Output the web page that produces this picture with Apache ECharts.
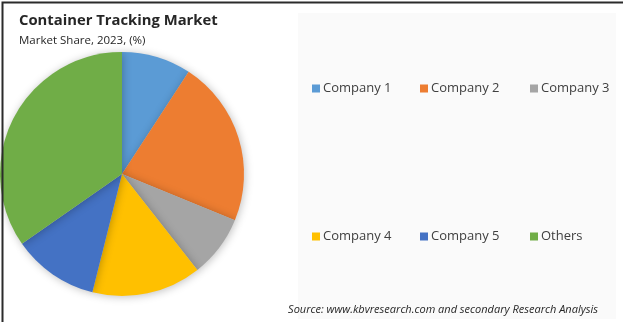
<!DOCTYPE html>
<html>
<head>
<meta charset="utf-8">
<script src="https://cdn.jsdelivr.net/npm/echarts@6/dist/echarts.min.js"></script>
<style>
html,body{margin:0;padding:0;background:#fff;}
#chart{width:623px;height:322px;}
</style>
</head>
<body>
<div id="chart"></div>
<script>
const categories = ['Company 1', 'Company 2', 'Company 3', 'Company 4', 'Company 5', 'Others'];
const shares = [9.2, 22.0, 8.2, 14.5, 11.4, 34.7];
const colors = ['#5B9BD5', '#ED7D31', '#A5A5A5', '#FFC000', '#4472C4', '#70AD47'];
const legendPos = [[312, 82], [420, 82], [530, 82], [312, 230], [420, 230], [530, 230]];

const chart = echarts.init(document.getElementById('chart'), null, {renderer: 'canvas'});
const fontFam = '"Open Sans", "Liberation Sans", sans-serif';

const legends = categories.map((c, i) => ({
  data: [c],
  left: legendPos[i][0],
  top: legendPos[i][1],
  icon: 'rect',
  itemWidth: 8,
  itemHeight: 8,
  padding: 0,
  selectedMode: false,
  textStyle: {fontFamily: fontFam, fontSize: 13, color: '#404040', padding: [0, 0, 0, -2]}
}));

chart.setOption({
  animation: false,
  backgroundColor: '#ffffff',
  color: colors,
  title: [
    {text: 'Container Tracking Market', left: 14, top: 8,
     textStyle: {fontFamily: fontFam, fontWeight: 'bold', fontSize: 14.8, color: '#262626'}},
    {text: 'Market Share, 2023, (%)', left: 14, top: 30,
     textStyle: {fontFamily: fontFam, fontWeight: 'normal', fontSize: 11.5, color: '#262626'}}
  ],
  graphic: [
    {type: 'rect', left: 298, top: 13, z: -1, silent: true,
     shape: {width: 318, height: 306}, style: {fill: '#fafafa'}},
    {type: 'text', right: 25, top: 304, silent: true,
     style: {text: 'Source: www.kbvresearch.com and secondary Research Analysis',
             font: 'italic 11px ' + fontFam, fill: '#262626'}},
    {type: 'rect', left: 0, top: 0, z: 100, silent: true,
     shape: {width: 622, height: 321},
     style: {fill: 'none', stroke: '#2b2b2b', lineWidth: 2}}
  ],
  legend: legends,
  series: [{
    type: 'pie',
    center: [122, 174],
    radius: [0, 122],
    startAngle: 90,
    clockwise: true,
    label: {show: false},
    labelLine: {show: false},
    silent: true,
    itemStyle: {shadowBlur: 8, shadowColor: 'rgba(0,0,0,0.25)', shadowOffsetX: 1, shadowOffsetY: 1},
    data: categories.map((c, i) => ({name: c, value: shares[i]}))
  }]
});
</script>
</body>
</html>
